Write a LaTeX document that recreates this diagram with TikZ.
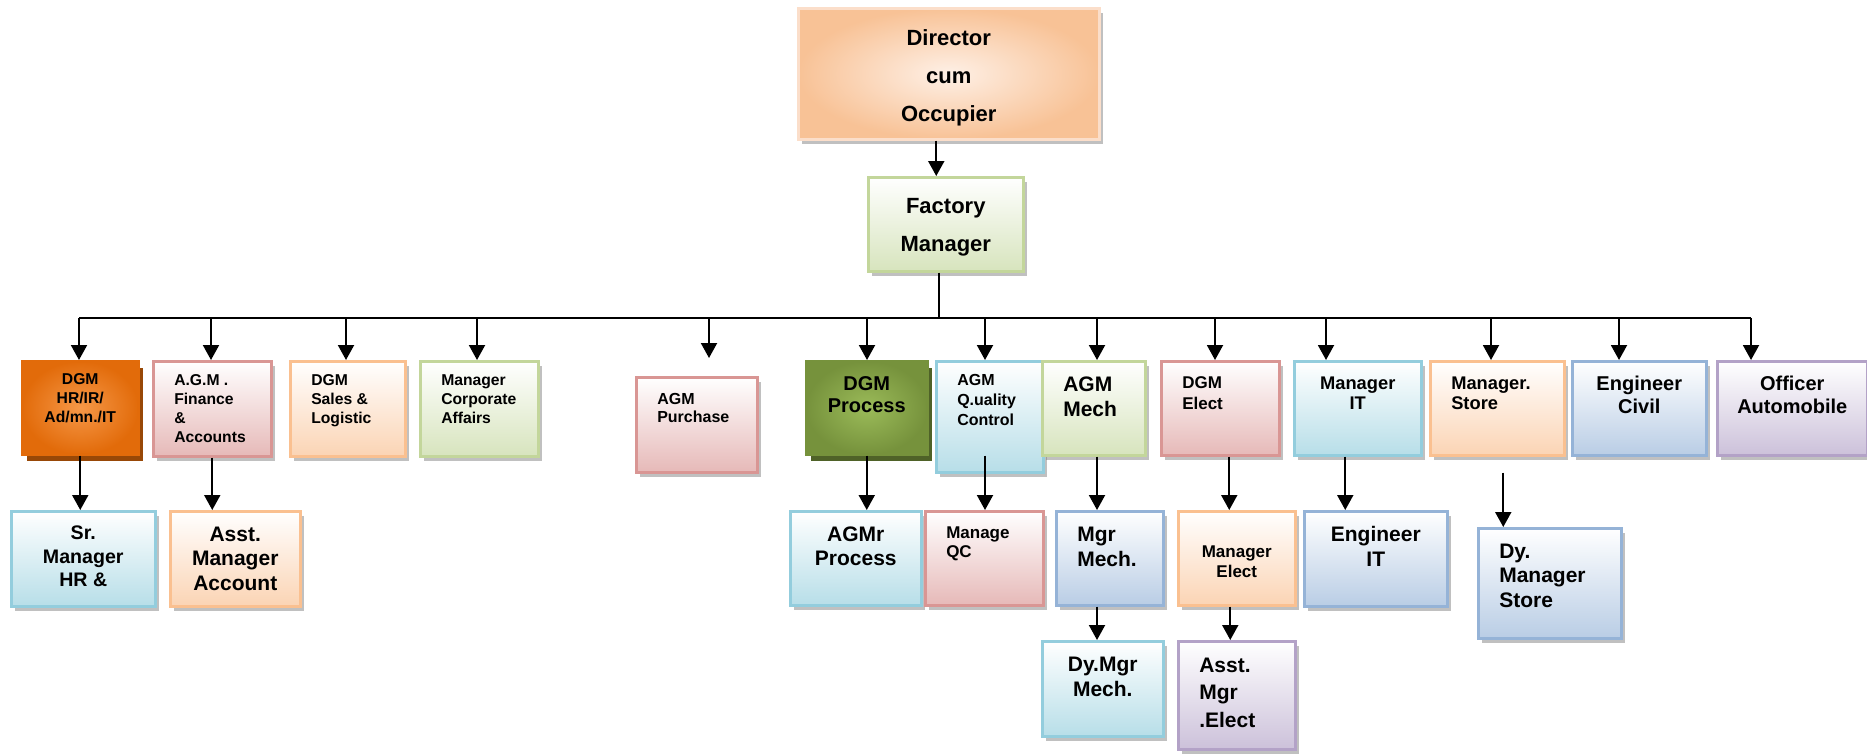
\documentclass[tikz,border=0pt]{standalone}
\usepackage{fontspec}
\setmainfont{Liberation Sans}
\usepackage{tikz}
\usetikzlibrary{arrows.meta,positioning,calc,shadows}

\definecolor{pinkline}{RGB}{217,150,148}
\definecolor{pinkfill}{RGB}{230,185,184}
\definecolor{peachline}{RGB}{250,192,144}
\definecolor{peachfill}{RGB}{251,212,180}
\definecolor{greenline}{RGB}{195,214,155}
\definecolor{greenfill}{RGB}{215,228,189}
\definecolor{cyanline}{RGB}{147,205,221}
\definecolor{cyanfill}{RGB}{183,222,232}
\definecolor{blueline}{RGB}{149,179,215}
\definecolor{bluefill}{RGB}{185,205,229}
\definecolor{purpleline}{RGB}{179,162,199}
\definecolor{purplefill}{RGB}{204,193,218}
\definecolor{dirline}{RGB}{251,222,202}
\definecolor{dirin}{RGB}{254,240,230}
\definecolor{dirout}{RGB}{248,194,150}
\definecolor{hrin}{RGB}{246,152,72}
\definecolor{hrout}{RGB}{226,107,10}
\definecolor{hrshadow}{RGB}{152,72,7}
\definecolor{procin}{RGB}{155,187,89}
\definecolor{procout}{RGB}{118,146,60}
\definecolor{procshadow}{RGB}{79,98,40}

% text inside a box: [top pad]{width}{height}{text}
\newcommand{\orgc}[4][15]{\parbox[c][#3pt][t]{#2pt}{\centering\vspace*{#1pt}#4}}
\newcommand{\orgl}[4][15]{\parbox[c][#3pt][t]{#2pt}{\raggedright\leftskip=21pt\vspace*{#1pt}#4}}
\newcommand{\orgfont}[2]{\bfseries\fontsize{#1}{#2}\selectfont}

\tikzstyle{basebox}=[draw,line width=2.5pt,inner sep=0pt,anchor=north west]
\tikzstyle{orgbox}=[basebox,drop shadow={shadow xshift=4pt,shadow yshift=-5pt,fill=black!55,opacity=.45}]
\tikzstyle{pinkbox}=[orgbox,draw=pinkline,top color=white,bottom color=pinkfill]
\tikzstyle{peachbox}=[orgbox,draw=peachline,top color=white,bottom color=peachfill]
\tikzstyle{greenbox}=[orgbox,draw=greenline,top color=white,bottom color=greenfill]
\tikzstyle{cyanbox}=[orgbox,draw=cyanline,top color=white,bottom color=cyanfill]
\tikzstyle{bluebox}=[orgbox,draw=blueline,top color=white,bottom color=bluefill]
\tikzstyle{purplebox}=[orgbox,draw=purpleline,top color=white,bottom color=purplefill]
\tikzstyle{dirbox}=[orgbox,draw=dirline,inner color=dirin,outer color=dirout]
\tikzstyle{hrbox}=[basebox,draw=hrout,inner color=hrin,outer color=hrout,
  drop shadow={shadow xshift=5pt,shadow yshift=-7pt,fill=hrshadow,opacity=1}]
\tikzstyle{procbox}=[basebox,draw=procout,inner color=procin,outer color=procout,
  drop shadow={shadow xshift=5pt,shadow yshift=-7pt,fill=procshadow,opacity=1}]
\tikzstyle{link}=[line width=2pt,-{Triangle[length=15pt,width=16pt]}]
\tikzstyle{busline}=[line width=2pt]

\begin{document}
\begin{tikzpicture}[x=1pt,y=-1pt]
  \useasboundingbox (0,0) rectangle (1867,753);

  % top
  \node[dirbox,font=\orgfont{22}{38}] (director) at (797,7) {\orgc[21]{301}{131}{Director\\cum\\Occupier}};
  \node[greenbox,font=\orgfont{22}{38}] (fm) at (867,176) {\orgc[21]{155}{94}{Factory\\Manager}};

  % first row
  \node[hrbox,font=\orgfont{15.7}{19}] (dgmhr) at (21,360) {\orgc[12.5]{116}{93}{DGM\\HR/IR/\\Ad/mn./IT}};
  \node[pinkbox,font=\orgfont{15.7}{19}] (agmfin) at (152,360) {\orgl[13.5]{118}{95}{A.G.M .\\Finance\\\&\\Accounts}};
  \node[peachbox,font=\orgfont{15.7}{19}] (dgmsales) at (289,360) {\orgl[13.5]{115}{95}{DGM\\Sales \&\\Logistic}};
  \node[greenbox,font=\orgfont{15.7}{19}] (mgrcorp) at (419,360) {\orgl[13.5]{118}{95}{Manager\\Corporate\\Affairs}};
  \node[pinkbox,font=\orgfont{16}{18}] (agmpur) at (635,376) {\orgl[16]{121}{95}{AGM\\Purchase}};
  \node[procbox,font=\orgfont{20}{22.3}] (dgmproc) at (805,360) {\orgc[15]{121}{93}{DGM\\Process}};
  \node[cyanbox,font=\orgfont{16}{20}] (agmqc) at (935,360) {\orgl[13.3]{107}{111}{AGM\\Q.uality\\Control}};
  \node[greenbox,font=\orgfont{21}{25}] (agmmech) at (1041,360) {\orgl[15.5]{103}{94}{AGM\\Mech}};
  \node[pinkbox,font=\orgfont{17}{21}] (dgmelec) at (1160,360) {\orgl[15]{118}{94}{DGM\\Elect}};
  \node[cyanbox,font=\orgfont{18.3}{20}] (mgrit) at (1293,360) {\orgc[15.5]{127}{94}{Manager\\IT}};
  \node[peachbox,font=\orgfont{18.3}{20}] (mgrstore) at (1429,360) {\orgl[15.5]{134}{94}{Manager.\\Store}};
  \node[bluebox,font=\orgfont{20}{22.7}] (engcivil) at (1571,360) {\orgc[15]{134}{94}{Engineer\\Civil}};
  \node[purplebox,font=\orgfont{20}{22.7}] (offauto) at (1716,360) {\orgc[15]{150}{94}{Officer\\Automobile}};

  % second row
  \node[cyanbox,font=\orgfont{19.6}{23.3}] (srmgr) at (10,510) {\orgc[15]{144}{95}{Sr.\\Manager\\HR \&}};
  \node[peachbox,font=\orgfont{21}{24.5}] (asstacc) at (169,510) {\orgc[15.5]{130}{95}{Asst.\\Manager\\Account}};
  \node[cyanbox,font=\orgfont{21}{24}] (agmrproc) at (789,510) {\orgc[15.5]{131}{94}{AGMr\\Process}};
  \node[pinkbox,font=\orgfont{17}{19}] (manqc) at (924,510) {\orgl[16]{118}{94}{Manage\\QC}};
  \node[bluebox,font=\orgfont{21}{25}] (mgrmech) at (1055,510) {\orgl[15.5]{107}{94}{Mgr\\Mech.}};
  \node[peachbox,font=\orgfont{17}{20}] (mgrelec) at (1177,510) {\orgc[35]{117}{94}{Manager\\Elect}};
  \node[bluebox,font=\orgfont{21}{24.7}] (engit) at (1303,510) {\orgc[15.5]{143}{95}{Engineer\\IT}};
  \node[bluebox,font=\orgfont{21}{24.5}] (dystore) at (1477,527) {\orgl[15.5]{143}{110}{Dy.\\Manager\\Store}};

  % third row
  \node[cyanbox,font=\orgfont{21}{25}] (dymech) at (1041,640) {\orgc[15.5]{121}{95}{Dy.Mgr\\Mech.}};
  \node[purplebox,font=\orgfont{21}{27.5}] (asstelec) at (1177,640) {\orgl[16.5]{117}{108}{Asst.\\Mgr\\.Elect}};

  % connectors
  \draw[link] ([xshift=-12.5pt]director.south) -- ([xshift=-12.5pt]director.south |- fm.north);
  \foreach \x/\n in {79/dgmhr,211/agmfin,346/dgmsales,477/mgrcorp,867/dgmproc,985/agmqc,
      1097/agmmech,1215/dgmelec,1326/mgrit,1491/mgrstore,1619/engcivil,1751/offauto}{
    \coordinate (bus-\n) at (\x,318);
    \draw[link] (bus-\n) -- (\n.north -| bus-\n);
  }
  \coordinate (bus-agmpur) at (709,318);
  \draw[link,shorten >=18pt] (bus-agmpur) -- (agmpur.north -| bus-agmpur);
  \draw[busline] (bus-dgmhr) -- (bus-offauto);
  \draw[busline] ([xshift=-6.5pt]fm.south) -- ([xshift=-6.5pt]fm.south |- bus-dgmhr);

  \draw[link] (dgmhr.south) -- (srmgr.north -| dgmhr.south);
  \draw[link] (agmfin.south) -- (asstacc.north -| agmfin.south);
  \draw[link] (dgmproc.south) -- (agmrproc.north -| dgmproc.south);
  \draw[link] (bus-agmqc |- dgmproc.south) -- (manqc.north -| bus-agmqc);
  \draw[link] (bus-agmmech |- agmmech.south) -- (mgrmech.north -| bus-agmmech);
  \draw[link] (mgrmech.south -| bus-agmmech) -- (dymech.north -| bus-agmmech);
  \draw[link] ([xshift=9pt]dgmelec.south) -- ([xshift=9pt]dgmelec.south |- mgrelec.north);
  \draw[link] ([xshift=-6.5pt]mgrelec.south) -- ([xshift=-6.5pt]mgrelec.south |- asstelec.north);
  \draw[link] ([xshift=-12.5pt]mgrit.south) -- ([xshift=-12.5pt]mgrit.south |- engit.north);
  \draw[link] ([xshift=6pt,yshift=-16pt]mgrstore.south) -- ([xshift=6pt]mgrstore.south |- dystore.north);
\end{tikzpicture}
\end{document}
